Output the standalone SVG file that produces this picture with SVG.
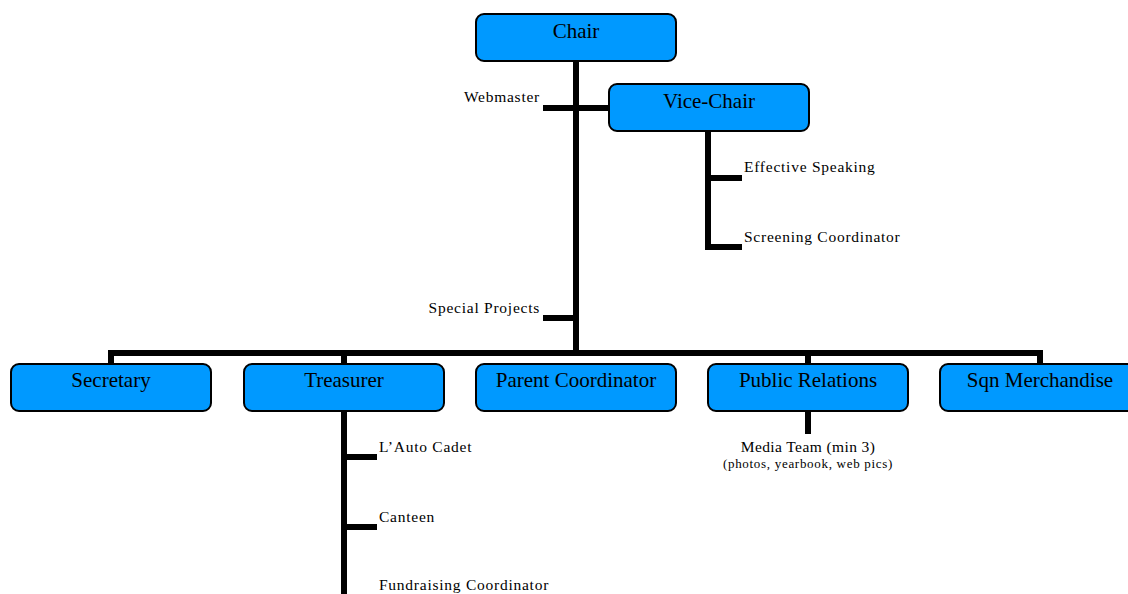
<svg xmlns="http://www.w3.org/2000/svg" width="1128" height="594" viewBox="0 0 1128 594">
<style>
.box{fill:#0099ff;stroke:#000;stroke-width:2}
.bt{font-family:"Liberation Serif","Times New Roman",serif;font-size:21px;fill:#000;text-anchor:middle}
.lbl{font-family:"Liberation Serif","Times New Roman",serif;font-size:15.5px;fill:#000;letter-spacing:0.75px}
.sm{font-family:"Liberation Serif","Times New Roman",serif;font-size:13px;fill:#000;letter-spacing:0.7px;text-anchor:middle}
.ln{stroke:#000;stroke-width:6;fill:none;stroke-linecap:butt}
</style>
<rect width="1128" height="594" fill="#fff"/>
<g id="connectors">
<line class="ln" x1="576" y1="61" x2="576" y2="356"/>
<line class="ln" x1="543" y1="108" x2="609" y2="108"/>
<line class="ln" x1="543" y1="318" x2="576" y2="318"/>
<polyline class="ln" points="111,364 111,353 1040,353 1040,364"/>
<line class="ln" x1="344" y1="353" x2="344" y2="364"/>
<line class="ln" x1="808" y1="353" x2="808" y2="364"/>
<polyline class="ln" points="708,131 708,247 742,247"/>
<line class="ln" x1="708" y1="178" x2="742" y2="178"/>
<line class="ln" x1="808" y1="411" x2="808" y2="434"/>
<line class="ln" x1="344" y1="411" x2="344" y2="594"/>
<line class="ln" x1="344" y1="457" x2="377" y2="457"/>
<line class="ln" x1="344" y1="527" x2="377" y2="527"/>
</g>
<g id="chair"><rect class="box" x="476" y="14" width="200" height="47" rx="8"/><text class="bt" x="576" y="38">Chair</text></g>
<g id="vice-chair"><rect class="box" x="609" y="84" width="200" height="47" rx="8"/><text class="bt" x="709" y="108">Vice-Chair</text></g>
<g id="webmaster"><text class="lbl" x="540" y="102" text-anchor="end">Webmaster</text></g>
<g id="special-projects"><text class="lbl" x="540" y="313" text-anchor="end">Special Projects</text></g>
<g id="effective-speaking"><text class="lbl" x="744" y="172">Effective Speaking</text></g>
<g id="screening-coordinator"><text class="lbl" x="744" y="242">Screening Coordinator</text></g>
<g id="secretary"><rect class="box" x="11" y="364" width="200" height="47" rx="8"/><text class="bt" x="111" y="387">Secretary</text></g>
<g id="treasurer"><rect class="box" x="244" y="364" width="200" height="47" rx="8"/><text class="bt" x="344" y="387">Treasurer</text></g>
<g id="parent-coordinator"><rect class="box" x="476" y="364" width="200" height="47" rx="8"/><text class="bt" x="576" y="387">Parent Coordinator</text></g>
<g id="public-relations"><rect class="box" x="708" y="364" width="200" height="47" rx="8"/><text class="bt" x="808" y="387">Public Relations</text></g>
<g id="sqn-merchandise"><rect class="box" x="940" y="364" width="200" height="47" rx="8"/><text class="bt" x="1040" y="387">Sqn Merchandise</text></g>
<g id="media-team"><text class="lbl" x="808" y="452" text-anchor="middle" style="letter-spacing:0.4px">Media Team (min 3)</text><text class="sm" x="808" y="468">(photos, yearbook, web pics)</text></g>
<g id="lauto-cadet"><text class="lbl" x="379" y="452">L’Auto Cadet</text></g>
<g id="canteen"><text class="lbl" x="379" y="522">Canteen</text></g>
<g id="fundraising-coordinator"><text class="lbl" x="379" y="590">Fundraising Coordinator</text></g>
</svg>
